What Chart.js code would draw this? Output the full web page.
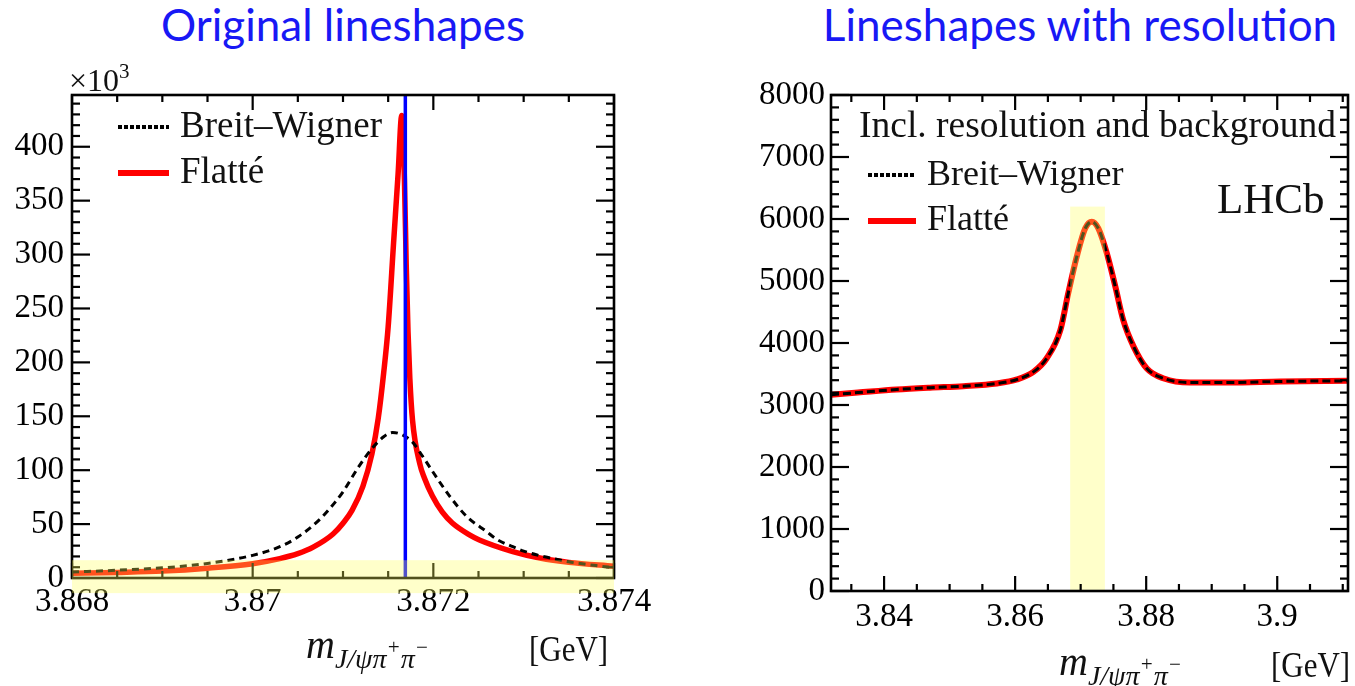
<!DOCTYPE html>
<html>
<head>
<meta charset="utf-8">
<title>X(3872) lineshapes</title>
<script src="https://cdn.jsdelivr.net/npm/chart.js@4.4.1/dist/chart.umd.min.js"></script>
<style>
    html, body { margin: 0; padding: 0; background: #fff; }
    body { width: 1355px; height: 686px; position: relative; overflow: hidden; font-family: 'Liberation Serif', 'Times New Roman', serif; }
    canvas { position: absolute; top: 0; }
    .title { position: absolute; top: -2px; font-family: Lato, 'Open Sans', sans-serif; font-size: 44px; line-height: 1.2; color: #1818f5; white-space: nowrap; transform: translateX(-50%); }
    .txt { position: absolute; white-space: nowrap; line-height: 1; color: #111; }
    .sample { position: absolute; }
</style>
</head>
<body>
<div class="title" style="left:343px">Original lineshapes</div>
<div class="title" style="left:1080px">Lineshapes with resolution</div>
<canvas id="origChart" width="660" height="686" style="left:0"></canvas>
<canvas id="resChart" width="655" height="686" style="left:700px"></canvas>

<script>
// ==================== DATA ====================

// Original lineshapes (y in units of 10^3)
const bwMass = [3.8680, 3.8685, 3.8690, 3.8695, 3.8700, 3.8703, 3.8705, 3.87075, 3.8709, 3.8710,
    3.87118, 3.87131, 3.87145, 3.87155, 3.87165, 3.87177, 3.87188, 3.87203, 3.87218, 3.87237,
    3.87259, 3.8727, 3.87288, 3.8730, 3.87314, 3.8733, 3.8735, 3.8738, 3.8740];
const bwOrig = [5.5, 7.2, 9.4, 13.5, 21, 29, 38, 55, 69, 80,
    104, 119, 131, 135, 133, 126, 113, 94, 76, 57,
    43, 36, 29, 25, 21.5, 18.5, 15, 11.5, 9.5];

const flatteMass = [3.8680, 3.8685, 3.8690, 3.8695, 3.8700, 3.8703, 3.8705, 3.87067, 3.87089, 3.8710,
    3.87110, 3.87122, 3.87132, 3.87139, 3.87145, 3.87150, 3.87156, 3.87161, 3.87165, 3.87168,
    3.87170, 3.87172, 3.87174, 3.87177, 3.87185, 3.87190, 3.87199, 3.87210, 3.87221, 3.8724,
    3.87251, 3.87288, 3.87318, 3.8735, 3.8740];
const flatteOrig = [4.4, 5.2, 6.4, 9.1, 13.3, 18, 22.6, 28.6, 40.8, 50.8,
    62.7, 85, 115, 148, 190, 233, 311, 375, 429, 370,
    290, 228, 185, 146, 106, 93, 76, 61, 51, 40,
    35.3, 24.5, 18.5, 14.5, 11];

const thresholdMass = 3.87169;
const origXRange = [3.868, 3.874];
const origYRange = [0, 448];
const origXTicks = [3.868, 3.870, 3.872, 3.874];
const origXTickLabels = ['3.868', '3.87', '3.872', '3.874'];
const origYTicks = [0, 50, 100, 150, 200, 250, 300, 350, 400];
const origBandX = [3.868, 3.874];
const origBandY = [-14, 16.5];

// Lineshapes with resolution and background
const resMass = [3.8319, 3.8360, 3.8419, 3.8470, 3.8521, 3.8572, 3.8603, 3.8628, 3.8648, 3.8669,
    3.8681, 3.8694, 3.8707, 3.8717, 3.8727, 3.8740, 3.8753, 3.8765, 3.8781, 3.8801,
    3.8827, 3.8867, 3.8928, 3.9005, 3.9108];
const resBreitWigner = [3165, 3200, 3250, 3280, 3304, 3347, 3412, 3535, 3750, 4207,
    4799, 5390, 5849, 5955, 5849, 5445, 4906, 4369, 3938, 3589,
    3428, 3363, 3363, 3380, 3390];
const resFlatte = [3165, 3200, 3250, 3280, 3304, 3347, 3412, 3535, 3750, 4207,
    4799, 5390, 5849, 5955, 5849, 5445, 4906, 4369, 3938, 3589,
    3428, 3363, 3363, 3380, 3390];

const resXRange = [3.8319, 3.9108];
const resYRange = [0, 8000];
const resXTicks = [3.84, 3.86, 3.88, 3.90];
const resXTickLabels = ['3.84', '3.86', '3.88', '3.9'];
const resYTicks = [0, 1000, 2000, 3000, 4000, 5000, 6000, 7000, 8000];
const resBandX = [3.8684, 3.8737];
const resBandY = [0, 6200];

// ==================== HELPERS ====================

const tickFont = { family: "'Liberation Serif', 'Times New Roman', serif", size: 33 };
const bandColor = 'rgba(255, 255, 90, 0.32)';

const pairs = (xs, ys) => xs.map((x, i) => ({ x: x, y: ys[i] }));

function steps(min, max, step) {
    const out = [];
    const k0 = Math.ceil(min / step - 1e-6);
    const k1 = Math.floor(max / step + 1e-6);
    for (let k = k0; k <= k1; k++) out.push(k * step);
    return out;
}

// frame with inward major/minor ticks on all four sides, plus the highlight band
function decorPlugin(cfg) {
    const drawBand = chart => {
        const { ctx, scales: { x, y } } = chart;
        const x0 = x.getPixelForValue(cfg.bandX[0]);
        const x1 = x.getPixelForValue(cfg.bandX[1]);
        const y0 = y.getPixelForValue(cfg.bandY[1]);
        const y1 = y.getPixelForValue(cfg.bandY[0]);
        ctx.save();
        ctx.fillStyle = bandColor;
        ctx.fillRect(x0, y0, x1 - x0, y1 - y0);
        ctx.restore();
    };
    const drawFrame = chart => {
        const { ctx, chartArea: a, scales: { x, y } } = chart;
        ctx.save();
        ctx.strokeStyle = '#000';
        ctx.lineWidth = 2.6;
        ctx.strokeRect(a.left, a.top, a.right - a.left, a.bottom - a.top);
        ctx.lineWidth = 2.2;
        const line = (x1, y1, x2, y2) => {
            ctx.beginPath();
            ctx.moveTo(x1, y1);
            ctx.lineTo(x2, y2);
            ctx.stroke();
        };
        const xMajor = x.ticks.map(t => t.value);
        steps(x.min, x.max, cfg.xMinor).forEach(v => {
            const isMajor = xMajor.some(m => Math.abs(m - v) < cfg.xMinor / 10);
            const len = isMajor ? 15 : 7;
            const px = x.getPixelForValue(v);
            line(px, a.bottom, px, a.bottom - len);
            line(px, a.top, px, a.top + len);
        });
        const yMajor = y.ticks.map(t => t.value);
        steps(y.min, y.max, cfg.yMinor).forEach(v => {
            const isMajor = yMajor.some(m => Math.abs(m - v) < cfg.yMinor / 10);
            const len = isMajor ? 18 : 8;
            const py = y.getPixelForValue(v);
            line(a.left, py, a.left + len, py);
            line(a.right, py, a.right - len, py);
        });
        ctx.restore();
    };
    return {
        id: 'decor',
        afterDraw(chart) {
            if (cfg.bandOnTop) {
                drawFrame(chart);
                drawBand(chart);
            } else {
                drawBand(chart);
                drawFrame(chart);
            }
        }
    };
}

function axisOptions(range, ticks, labels, fitSize, isX, padding) {
    return {
        type: 'linear',
        min: range[0],
        max: range[1],
        grid: { display: false, drawTicks: false, tickLength: 0 },
        border: { display: false },
        afterBuildTicks: s => { s.ticks = ticks.map(v => ({ value: v })); },
        afterFit: s => {
            if (isX) s.height = fitSize;
            else s.width = fitSize;
        },
        ticks: {
            autoSkip: false,
            maxRotation: 0,
            padding: padding,
            color: '#000',
            font: tickFont,
            callback: (v, i) => labels[i]
        }
    };
}

function baseOptions(padding, xAxis, yAxis) {
    return {
        responsive: false,
        animation: false,
        events: [],
        devicePixelRatio: 1,
        layout: { padding: padding },
        elements: {
            point: { radius: 0 },
            line: { cubicInterpolationMode: 'monotone', fill: false, borderCapStyle: 'butt' }
        },
        plugins: { legend: { display: false }, tooltip: { enabled: false } },
        scales: { x: xAxis, y: yAxis }
    };
}

// ==================== ORIGINAL LINESHAPES ====================

new Chart(document.getElementById('origChart'), {
    type: 'line',
    data: {
        datasets: [
            {
                label: 'threshold',
                data: [{ x: thresholdMass, y: origYRange[0] }, { x: thresholdMass, y: origYRange[1] }],
                borderColor: '#0000ff',
                borderWidth: 3.5,
                cubicInterpolationMode: 'default',
                tension: 0,
                order: 0
            },
            {
                label: 'Breit–Wigner',
                data: pairs(bwMass, bwOrig),
                borderColor: '#000',
                borderWidth: 3,
                borderDash: [7, 5],
                order: 1
            },
            {
                label: 'Flatté',
                data: pairs(flatteMass, flatteOrig),
                borderColor: '#ff0000',
                borderWidth: 5.5,
                order: 2
            }
        ]
    },
    options: baseOptions(
        { top: 95, right: 46, left: 0, bottom: 0 },
        axisOptions(origXRange, origXTicks, origXTickLabels, 108, true, 5),
        axisOptions(origYRange, origYTicks, origYTicks.map(String), 72, false, 8)
    ),
    plugins: [decorPlugin({ xMinor: 0.0005, yMinor: 10, bandX: origBandX, bandY: origBandY, bandOnTop: true })]
});

// ==================== WITH RESOLUTION ====================

new Chart(document.getElementById('resChart'), {
    type: 'line',
    data: {
        datasets: [
            {
                label: 'Breit–Wigner',
                data: pairs(resMass, resBreitWigner),
                borderColor: '#000',
                borderWidth: 3,
                borderDash: [8, 4],
                order: 0
            },
            {
                label: 'Flatté',
                data: pairs(resMass, resFlatte),
                borderColor: '#ff0000',
                borderWidth: 6,
                order: 1
            }
        ]
    },
    options: baseOptions(
        { top: 95, right: 7, left: 0, bottom: 0 },
        axisOptions(resXRange, resXTicks, resXTickLabels, 95, true, 7),
        axisOptions(resYRange, resYTicks, resYTicks.map(String), 131, false, 6)
    ),
    plugins: [decorPlugin({ xMinor: 0.005, yMinor: 200, bandX: resBandX, bandY: resBandY, bandOnTop: false })]
});

// ==================== TEXT OVERLAYS ====================

const SERIF_BASE = 0.8375; // baseline offset for Liberation Serif at line-height 1

function placeText(html, x, baseline, size, extra) {
    const el = document.createElement('div');
    el.className = 'txt';
    el.style.cssText = `left:${x}px;top:${baseline - SERIF_BASE * size}px;font-size:${size}px;${extra || ''}`;
    el.innerHTML = html;
    document.body.appendChild(el);
    return el;
}

function placeSample(x0, x1, yc, h, bg) {
    const el = document.createElement('div');
    el.className = 'sample';
    el.style.cssText = `left:${x0}px;top:${yc - h / 2}px;width:${x1 - x0}px;height:${h}px;background:${bg};`;
    document.body.appendChild(el);
}

const dotted = 'repeating-linear-gradient(90deg, #000 0 4px, transparent 4px 6px)';
const massLabel = '<i>m</i><i style="font-size:28px;position:relative;top:10px">J/ψπ' +
    '<span style="font-size:21px;position:relative;top:-14px">+</span>π' +
    '<span style="font-size:21px;position:relative;top:-14px">−</span></i>';
const stretch = 'transform:scaleY(1.15);transform-origin:0 85%;';

// left panel
placeText('×10<span style="font-size:21px;position:relative;top:-13px">3</span>', 69, 91, 32);
placeSample(118, 169, 127, 4, dotted);
placeText('Breit–Wigner', 180, 137, 37);
placeSample(118, 169, 173, 6, '#ff0000');
placeText('Flatté', 180, 183, 37);
placeText(massLabel, 306, 658, 40);
placeText('[GeV]', 529, 661, 31, stretch);

// right panel
placeText('Incl. resolution and background', 859, 137, 37.5);
placeSample(868, 916, 175, 4, dotted);
placeText('Breit–Wigner', 927, 185, 36);
placeSample(868, 916, 221, 6, '#ff0000');
placeText('Flatté', 927, 230, 36);
placeText('LHCb', 1217, 213, 43);
placeText(massLabel, 1059, 675, 40);
placeText('[GeV]', 1271, 677, 31, stretch);
</script>
</body>
</html>
